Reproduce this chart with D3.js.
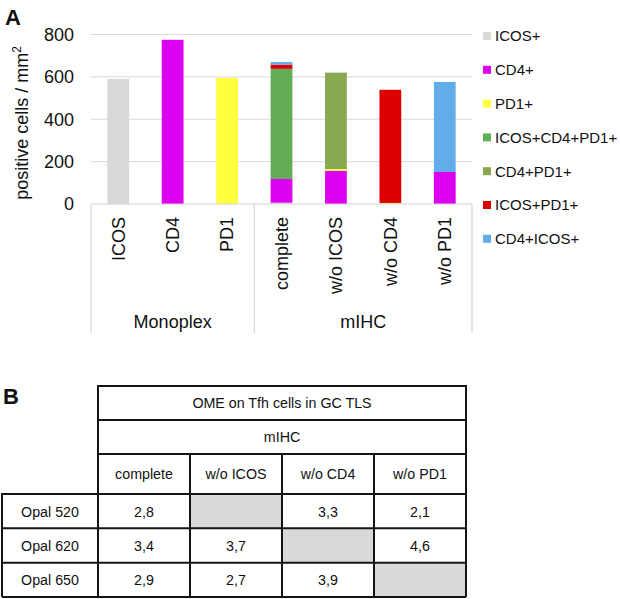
<!DOCTYPE html>
<html><head><meta charset="utf-8">
<script src="https://cdn.jsdelivr.net/npm/d3@7"></script>
<style>body{margin:0;background:#fff}svg{display:block}text{font-family:"Liberation Sans",Arial,sans-serif;fill:#111}</style>
</head><body>
<svg id="c" width="620" height="599"></svg>
<script>
// ---------- data ----------
const categories = ["ICOS","CD4","PD1","complete","w/o ICOS","w/o CD4","w/o PD1"];
const groupNames = ["Monoplex","mIHC"];
const groupSizes = [3,4];
const seriesNames = ["ICOS+","CD4+","PD1+","ICOS+CD4+PD1+","CD4+PD1+","ICOS+PD1+","CD4+ICOS+"];
const seriesColors = ["#d9d9d9","#dc00f0","#ffff40","#63ad57","#88a94f","#dd0000","#62acea"];
const sICOS      = [590,0,0,6,0,0,0];
const sCD4       = [0,775,0,112,157,0,151];
const sPD1       = [0,0,595,0,8,5,0];
const sICOSCD4PD1= [0,0,0,520,0,0,0];
const sCD4PD1    = [0,0,0,0,455,0,0];
const sICOSPD1   = [0,0,0,20,0,534,0];
const sCD4ICOS   = [0,0,0,12,0,0,425];
const seriesValues = [sICOS,sCD4,sPD1,sICOSCD4PD1,sCD4PD1,sICOSPD1,sCD4ICOS];
const yTicks = [0,200,400,600,800];

const tableTitle = "OME on Tfh cells in GC TLS";
const tableGroup = "mIHC";
const tableCols = ["complete","w/o ICOS","w/o CD4","w/o PD1"];
const tableRows = ["Opal 520","Opal 620","Opal 650"];
const tableValues = [
  ["2,8", null, "3,3", "2,1"],
  ["3,4", "3,7", null, "4,6"],
  ["2,9", "2,7", "3,9", null]
];

// ---------- chart A ----------
const svg = d3.select("#c");
const L = 91, R = 472, Y0 = 204, Y1 = 34.5;
const x = d3.scaleBand().domain(categories).range([L,R]).paddingInner(0.6).paddingOuter(0.3);
const y = d3.scaleLinear().domain([0,800]).range([Y0,Y1]);
const gridC = "#d9d9d9";

svg.append("text").attr("x",5).attr("y",25).attr("font-size",22).attr("font-weight","bold").text("A");

svg.append("g").selectAll("line").data(yTicks.filter(d=>d>0)).join("line")
  .attr("x1",L).attr("x2",R).attr("y1",d=>y(d)).attr("y2",d=>y(d))
  .attr("stroke",gridC).attr("stroke-width",1);

const yAxis = svg.append("g").attr("transform",`translate(${L},0)`)
  .call(d3.axisLeft(y).tickValues(yTicks).tickSize(0).tickPadding(17));
yAxis.select(".domain").remove();
yAxis.selectAll("text").attr("font-size",18).style("font-family",'"Liberation Sans",Arial,sans-serif').attr("fill","#111");

const yt = svg.append("text").attr("transform","translate(28,123) rotate(-90)")
  .attr("text-anchor","middle").attr("font-size",18);
yt.append("tspan").text("positive cells / mm");
yt.append("tspan").attr("font-size",12).attr("dy",-7).text("2");

const stackData = categories.map((c,i)=>{
  const o = {cat:c};
  seriesNames.forEach((s,j)=>o[s]=seriesValues[j][i]);
  return o;
});
const stacked = d3.stack().keys(seriesNames)(stackData);
svg.append("g").selectAll("g").data(stacked).join("g")
  .attr("fill",(d,i)=>seriesColors[i])
  .selectAll("rect").data(d=>d.filter(p=>p[1]-p[0]>0)).join("rect")
  .attr("x",d=>x(d.data.cat)).attr("width",x.bandwidth())
  .attr("y",d=>y(d[1])).attr("height",d=>y(d[0])-y(d[1]));

const axC = "#d0d0d0";
svg.append("line").attr("x1",L).attr("x2",R).attr("y1",Y0).attr("y2",Y0).attr("stroke",axC);
const half = x.step()*x.paddingInner()/2;
let idx = 0;
const bounds = [L];
const groupCenters = [];
groupSizes.forEach((n,g)=>{
  const start = g===0 ? L : x(categories[idx]) - half;
  idx += n;
  const end = idx>=categories.length ? R : x(categories[idx]) - half;
  bounds.push(end);
  groupCenters.push((start+end)/2);
});
svg.append("g").selectAll("line").data(bounds).join("line")
  .attr("x1",d=>d).attr("x2",d=>d).attr("y1",Y0).attr("y2",333).attr("stroke",axC);
svg.append("g").selectAll("text").data(categories).join("text")
  .attr("transform",d=>`translate(${x(d)+x.bandwidth()/2},217) rotate(-90)`)
  .attr("text-anchor","end").attr("dy","0.35em").attr("font-size",18).text(d=>d);
svg.append("g").selectAll("text").data(groupNames).join("text")
  .attr("x",(d,i)=>groupCenters[i]).attr("y",328).attr("text-anchor","middle")
  .attr("font-size",18).text(d=>d);

const lg = svg.append("g").selectAll("g").data(seriesNames).join("g")
  .attr("transform",(d,i)=>`translate(483,${36+i*33.8})`);
lg.append("rect").attr("x",0).attr("y",-4).attr("width",8).attr("height",8)
  .attr("fill",(d,i)=>seriesColors[i]);
lg.append("text").attr("x",12).attr("dy","0.36em").attr("font-size",15).text(d=>d);

// ---------- table B ----------
svg.append("text").attr("x",3).attr("y",404).attr("font-size",22).attr("font-weight","bold").text("B");
const TL = 98, TR = 466, RH0 = 2;
const rowEdges = [386,420,454,494,529,563,597];
const cx = d3.scaleBand().domain(tableCols).range([TL,TR]);
const ry = d3.scaleBand().domain(tableRows).range([rowEdges[3],rowEdges[6]]);
const tb = svg.append("g");
const fs = 15.5;
tableValues.forEach((row,r)=>row.forEach((v,c)=>{
  if(v===null) tb.append("rect").attr("x",cx(tableCols[c])).attr("y",ry(tableRows[r]))
    .attr("width",cx.bandwidth()).attr("height",ry.bandwidth()).attr("fill","#d9d9d9");
}));
const lineC = "#151515", lw = 2;
function hl(x1,x2,yy){tb.append("line").attr("x1",x1).attr("x2",x2).attr("y1",yy).attr("y2",yy).attr("stroke",lineC).attr("stroke-width",lw);}
function vl(xx,y1,y2){tb.append("line").attr("x1",xx).attr("x2",xx).attr("y1",y1).attr("y2",y2).attr("stroke",lineC).attr("stroke-width",lw);}
hl(TL-1,TR+1,rowEdges[0]); hl(TL,TR,rowEdges[1]); hl(TL,TR,rowEdges[2]);
hl(RH0-1,TR+1,rowEdges[3]);
tableRows.forEach(r=>hl(RH0,TR,ry(r)+ry.bandwidth()));
vl(TL,rowEdges[0],rowEdges[6]); vl(TR,rowEdges[0],rowEdges[6]);
vl(RH0,rowEdges[3],rowEdges[6]);
tableCols.slice(1).forEach(c=>vl(cx(c),rowEdges[2],rowEdges[6]));
function txt(t,xx,yy){tb.append("text").attr("transform",`translate(${xx},${yy}) scale(0.92,1)`)
  .attr("dy","0.35em").attr("text-anchor","middle").attr("font-size",fs).text(t);}
txt(tableTitle,(TL+TR)/2,(rowEdges[0]+rowEdges[1])/2);
txt(tableGroup,(TL+TR)/2,(rowEdges[1]+rowEdges[2])/2);
tableCols.forEach(c=>txt(c,cx(c)+cx.bandwidth()/2,(rowEdges[2]+rowEdges[3])/2));
tableRows.forEach((r,i)=>{
  txt(r,(RH0+TL)/2,ry(r)+ry.bandwidth()/2);
  tableValues[i].forEach((v,c)=>{ if(v!==null) txt(v,cx(tableCols[c])+cx.bandwidth()/2,ry(r)+ry.bandwidth()/2); });
});
</script>
</body></html>
